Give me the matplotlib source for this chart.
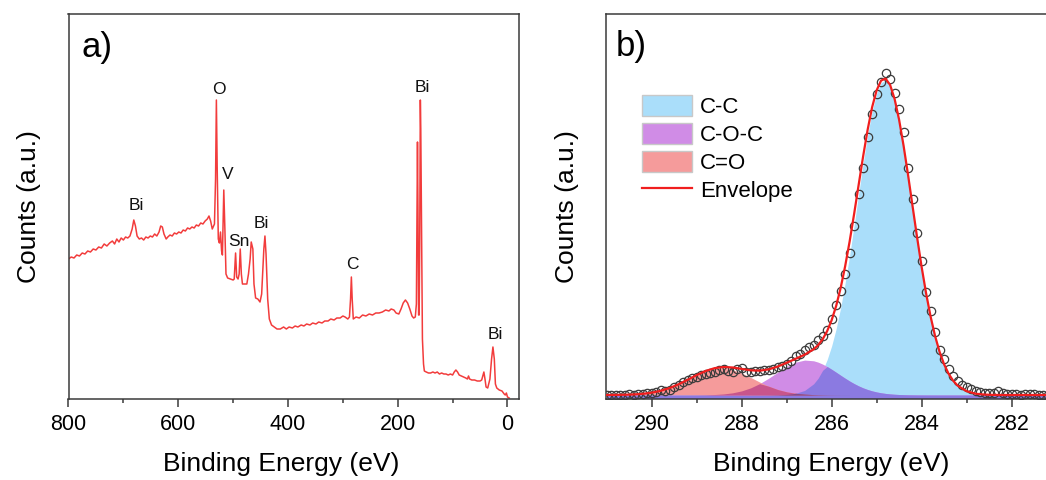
import numpy as np
import matplotlib
matplotlib.use('Agg')
import matplotlib.pyplot as plt
from matplotlib.patches import Patch
from matplotlib.lines import Line2D

plt.rcParams['font.family'] = ['Liberation Sans', 'DejaVu Sans']

# a) survey spectrum (binding energy, counts in arbitrary units)
survey_be = [800, 795, 790, 785, 780, 775, 770, 765, 760, 755, 750, 745, 740, 735, 730, 725,
             720, 716, 712, 708, 704, 700, 696, 692, 688, 684, 681, 678, 675, 671, 667, 663,
             659, 655, 651, 647, 643, 639, 635, 632, 629, 626, 622, 619, 615, 611, 607, 603,
             599, 595, 591, 587, 583, 579, 575, 571, 567, 563, 559, 555, 551, 547, 544, 541,
             538, 534, 532, 530.5, 529, 527, 525, 523, 521, 519.5, 517, 515, 513, 510, 505,
             500, 498, 495.5, 493.5, 491, 489, 487, 485, 483, 475, 472, 469, 467, 464, 462,
             459, 455, 451, 448, 444, 442, 440, 437, 434, 430, 425, 420, 414, 408, 403, 398,
             392, 387, 382, 376, 371, 366, 360, 355, 349, 344, 338, 333, 327, 322, 316, 311,
             305, 300, 296, 291, 288, 286, 284.5, 283, 281, 276, 270, 264, 258, 252, 246, 240,
             234, 228, 222, 216, 212, 207, 203, 198, 194, 190, 186, 182, 178, 174, 171, 168,
             166, 165, 164, 163, 162, 161, 160, 158.8, 158, 157, 156, 155, 153, 151.5, 148,
             144, 140, 136, 132, 128, 124, 120, 116, 112, 108, 104, 100, 97, 94, 91, 88, 84,
             80, 76, 73, 71, 69, 65, 60, 55, 50, 47, 45, 43, 41, 39, 36, 32, 29, 26.5, 24, 22,
             19.5, 15, 10, 6, 4, 2, 0, -3]
survey_counts = [140, 142, 141, 144, 143, 146, 145, 148, 147, 150, 149, 152, 151, 155, 153, 156,
                 158, 155, 160, 157, 161, 159, 162, 161, 163, 170, 179, 173, 163, 160, 161, 159,
                 162, 161, 163, 162, 165, 163, 167, 173, 172, 165, 160, 162, 164, 163, 166, 165,
                 167, 166, 169, 168, 171, 170, 172, 171, 174, 173, 176, 175, 178, 180, 183, 178,
                 170, 175, 220, 299, 230, 160, 156, 167, 148, 144, 209, 170, 125, 121, 120,
                 119, 120, 146, 122, 120, 125, 150, 125, 115, 115, 125, 140, 157, 150, 115,
                 101, 100, 97, 105, 150, 163, 145, 100, 80, 74, 72, 70, 70, 72, 70, 72,
                 71, 73, 72, 74, 73, 75, 74, 76, 75, 77, 76, 78, 78, 80, 79, 81,
                 81, 83, 82, 80, 82, 100, 122, 100, 80, 82, 81, 84, 83, 85, 84, 86,
                 86, 87, 89, 88, 90, 89, 86, 85, 90, 96, 99, 96, 90, 83, 81, 82,
                 95, 170, 257, 180, 84, 84, 150, 299, 270, 200, 120, 60, 35, 28, 27,
                 26, 26, 27, 26, 27, 25, 26, 25, 25, 24, 25, 24, 27, 29, 27, 24, 23,
                 22, 21, 20, 23, 20, 19, 19, 18, 18, 19, 23, 27, 20, 12, 11, 20, 40, 52, 40, 15,
                 11, 9, 8, 5, 4, 6, 2, 1]
peak_labels = ['Bi', 'O', 'V', 'Sn', 'Bi', 'C', 'Bi', 'Bi']
label_be = [675.7, 525.1, 509.7, 488.6, 447.8, 282.6, 156.0, 22.4]
label_counts = [189, 304.7, 220, 153.3, 170.7, 130, 307, 60]

# b) C 1s high resolution spectrum
c1s_be = list(np.round(np.linspace(291.0, 281.2, 99), 1))
c1s_counts = [3.5, 3.6, 3.8, 3.6, 4.0, 4.2, 4.0, 4.6, 4.4, 5.2,
              5.8, 6.6, 8.8, 7.6, 8.4, 11.2, 13.6, 16.4, 18.6, 20.2,
              21.6, 23.2, 24.6, 25.6, 26.6, 28.2, 29.6, 27.6, 26.6, 29.2,
              31.0, 27.0, 26.4, 27.2, 28.0, 28.6, 28.2, 29.6, 31.2, 33.0,
              34.6, 37.6, 42.6, 44.6, 48.6, 51.4, 53.4, 59.0, 62.2, 68.4,
              80.0, 93.2, 107.6, 124.8, 145.2, 172.6, 204.4, 230.2, 261.6, 284.4,
              304.6, 316.8, 326.0, 319.4, 305.2, 289.6, 266.4, 230.4, 199.6, 165.8,
              137.4, 106.6, 87.4, 66.2, 48.2, 39.6, 29.2, 22.4, 17.6, 13.6,
              11.2, 9.2, 8.0, 6.6, 5.6, 5.2, 6.0, 7.4, 5.6, 4.6,
              4.6, 4.4, 4.0, 4.6, 5.0, 4.4, 4.0, 3.8, 3.8]

fit_be = [291.0, 290.8, 290.6, 290.4, 290.2, 290.0, 289.8, 289.6, 289.4, 289.2, 289.0, 288.8,
          288.6, 288.4, 288.2, 288.0, 287.8, 287.6, 287.4, 287.2, 287.0, 286.8, 286.6,
          286.4, 286.3, 286.2, 286.1, 286.0, 285.9, 285.8, 285.7, 285.6, 285.5, 285.4, 285.3,
          285.2, 285.1, 285.0, 284.9, 284.8, 284.7, 284.6, 284.5, 284.4, 284.3, 284.2, 284.1,
          284.0, 283.9, 283.8, 283.7, 283.6, 283.5, 283.4, 283.3, 283.2,
          283.0, 282.8, 282.6, 282.4, 282.2, 282.0, 281.8, 281.6, 281.4, 281.2]
background = 3.5
cc_peak = [0, 0, 0, 0, 0, 0, 0, 0, 0, 0, 0, 0, 0, 0, 0, 0, 0, 0.01, 0.04, 0.16, 0.55, 1.67, 4.56,
           11.2, 16.8, 24.7, 35.3, 49.0, 66.2, 87.2, 111.9, 139.6, 169.7, 200.9, 231.5, 259.7,
           283.7, 301.6, 312.3, 314.8, 309.0, 295.3, 274.7, 248.8, 219.5, 188.4, 157.5, 128.2,
           101.6, 78.4, 58.9, 43.1, 30.7, 21.3, 14.4, 9.4,
           3.8, 1.3, 0.4, 0.1, 0, 0, 0, 0, 0, 0]
coc_peak = [0, 0, 0, 0, 0, 0, 0, 0, 0.01, 0.03, 0.08, 0.2, 0.48, 1.07, 2.19, 4.12, 7.13, 11.39,
            16.77, 22.76, 28.48, 32.84, 34.91,
            34.21, 32.84, 30.89, 28.48, 25.72, 22.76, 19.74, 16.77, 13.96, 11.39, 9.1, 7.13,
            5.47, 4.12, 3.03, 2.19, 1.55, 1.07, 0.73, 0.48, 0.32, 0.2, 0.13, 0.08, 0.05, 0.03,
            0.02, 0.01, 0, 0, 0, 0, 0,
            0, 0, 0, 0, 0, 0, 0, 0, 0, 0]
co_peak = [0.04, 0.1, 0.24, 0.56, 1.19, 2.34, 4.22, 7.02, 10.77, 15.23, 19.84, 23.83, 26.39,
           26.93, 25.33, 21.97, 17.56, 12.94, 8.79, 5.5, 3.18, 1.69, 0.83,
           0.37, 0.24, 0.16, 0.1, 0.06, 0.04, 0.02, 0.01, 0, 0, 0, 0, 0, 0, 0, 0, 0, 0, 0,
           0, 0, 0, 0, 0, 0, 0, 0, 0, 0, 0, 0, 0, 0,
           0, 0, 0, 0, 0, 0, 0, 0, 0, 0]
component_names = ['C-C', 'C-O-C', 'C=O']

col_cc = np.array([170, 222, 250]) / 255
col_coc = np.array([208, 140, 230]) / 255
col_co = np.array([245, 155, 155]) / 255
spine_col = '#3a3a3a'

fig = plt.figure(figsize=(10.46, 4.8), dpi=100)
ax1 = fig.add_axes([68.5 / 1046, 81 / 480, 450.5 / 1046, 385 / 480])
ax2 = fig.add_axes([606 / 1046, 81.5 / 480, 460 / 1046, 384.5 / 480])

# ---- a)
ax1.plot(survey_be, survey_counts, color='#f23c3c', lw=1.1)
for lab, e, c in zip(peak_labels, label_be, label_counts):
    ax1.text(e, c, lab, fontsize=12.5, ha='center', va='baseline', color='#111111')
ax1.set_xlim(800, -21)
ax1.set_ylim(0, 385)
ax1.set_xticks([800, 600, 400, 200, 0])
ax1.set_xticks([700, 500, 300, 100], minor=True)
ax1.text(0.029, 0.889, 'a)', transform=ax1.transAxes, fontsize=25, ha='left', va='baseline')

# ---- b)
e = np.array(fit_be)
cc = background + np.array(cc_peak)
coc = background + np.array(coc_peak)
co = background + np.array(co_peak)
envelope = background + np.array(cc_peak) + np.array(coc_peak) + np.array(co_peak)

ax2.fill_between(e, 0, cc, color=col_cc, lw=0)
ax2.fill_between(e, 0, coc, color=col_coc, lw=0)
ax2.fill_between(e, background, co, color=col_co, lw=0)
# overlapping areas are shown darker (multiplied colours)
ax2.fill_between(e, 0, np.minimum(cc, coc), color=col_cc * col_coc, lw=0)
ax2.fill_between(e, background, np.minimum(cc, co), color=col_cc * col_co, lw=0)
ax2.fill_between(e, background, np.minimum(coc, co), color=col_coc * col_co, lw=0)
ax2.fill_between(e, background, np.minimum(np.minimum(cc, coc), co),
                 color=col_cc * col_coc * col_co, lw=0)

ax2.plot(c1s_be, c1s_counts, 'o', ms=6, mfc='none', mec='#3c3c3c', mew=0.9, zorder=3)
ax2.plot(e, envelope, color='#f01e1e', lw=1.6, zorder=4)

ax2.set_xlim(291.016, 280.79)
ax2.set_ylim(0, 384.5)
ax2.set_xticks([290, 288, 286, 284, 282])
ax2.set_xticks([289, 287, 285, 283, 281], minor=True)
ax2.text(0.0217, 0.891, 'b)', transform=ax2.transAxes, fontsize=25, ha='left', va='baseline')

handles = [Patch(facecolor=col_cc, edgecolor='#c8c8c8', lw=1),
           Patch(facecolor=col_coc, edgecolor='#c8c8c8', lw=1),
           Patch(facecolor=col_co, edgecolor='#c8c8c8', lw=1),
           Line2D([], [], color='#f01e1e', lw=1.6)]
ax2.legend(handles, component_names + ['Envelope'], loc='upper left',
           bbox_to_anchor=(0.0783, 0.790), borderpad=0, borderaxespad=0, frameon=False,
           fontsize=16, handlelength=2.25, handleheight=1.1, handletextpad=0.36,
           labelspacing=0.22)

# common styling
for ax, xl in ((ax1, 0.472), (ax2, 0.489)):
    for s in ax.spines.values():
        s.set_color(spine_col)
        s.set_linewidth(1.1)
    ax.set_yticks([])
    ax.tick_params(axis='x', which='major', direction='out', length=5.5, width=1.1,
                   color=spine_col, labelsize=15.5, pad=5.5)
    ax.tick_params(axis='x', which='minor', direction='out', length=3, width=1.1,
                   color=spine_col)
    ax.set_xlabel('Binding Energy (eV)', fontsize=19)
    ax.set_ylabel('Counts (a.u.)', fontsize=19)
    ax.xaxis.set_label_coords(xl, -0.138)
ax1.yaxis.set_label_coords(-0.061, 0.5)
ax2.yaxis.set_label_coords(-0.059, 0.5)
ax2.spines['right'].set_visible(False)

fig.savefig('out.png', dpi=100)
